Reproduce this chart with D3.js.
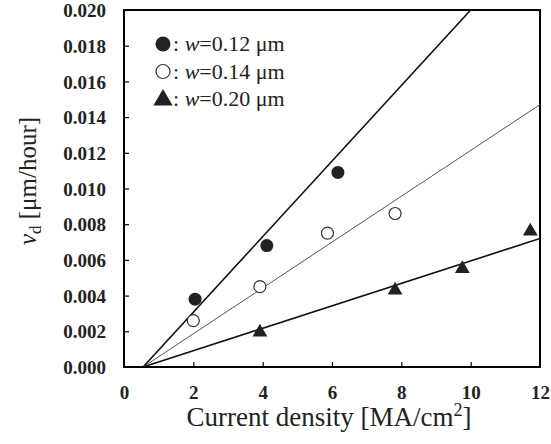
<!DOCTYPE html>
<html>
<head>
<meta charset="utf-8">
<script src="https://cdn.jsdelivr.net/npm/d3@7"></script>
<style>
  body { margin: 0; background: #fff; }
  svg { font-family: "Liberation Serif", "DejaVu Serif", serif; }
</style>
</head>
<body>
<div id="chart"></div>
<script>
// values
var xTicks = [0, 2, 4, 6, 8, 10, 12];
var yTicks = [0, 0.002, 0.004, 0.006, 0.008, 0.010, 0.012, 0.014, 0.016, 0.018, 0.020];

var w012 = [[2.05, 0.0038], [4.12, 0.0068], [6.17, 0.0109]];
var w014 = [[2.0, 0.0026], [3.92, 0.0045], [5.87, 0.0075], [7.82, 0.0086]];
var w020 = [[3.92, 0.00195], [7.82, 0.0043], [9.76, 0.0055], [11.72, 0.0076]];

var fit012 = [[0.55, 0], [10.0, 0.020]];
var fit014 = [[0.55, 0], [12, 0.0147]];
var fit020 = [[0.55, 0], [12, 0.0072]];

var legendLabels = ["0.12", "0.14", "0.20"];

const WIDTH = 551;
const HEIGHT = 444;
var margin = { left: 124, right: 11, top: 10, bottom: 77 };

var svg = d3.select("#chart").append("svg")
  .attr("width", WIDTH)
  .attr("height", HEIGHT);

var x = d3.scaleLinear().domain([0, 12]).range([margin.left, WIDTH - margin.right]);
var y = d3.scaleLinear().domain([0, 0.020]).range([HEIGHT - margin.bottom, margin.top]);

svg.append("clipPath").attr("id", "clip")
  .append("rect")
  .attr("x", x(0)).attr("y", y(0.020))
  .attr("width", x(12) - x(0)).attr("height", y(0) - y(0.020));

// axes with inward ticks
var xAxis = svg.append("g")
  .attr("transform", "translate(0," + y(0) + ")")
  .call(d3.axisBottom(x).tickValues(xTicks).tickSizeInner(-5).tickSizeOuter(0).tickPadding(19));
var yAxis = svg.append("g")
  .attr("transform", "translate(" + x(0) + ",0)")
  .call(d3.axisLeft(y).tickValues(yTicks).tickSizeInner(-5).tickSizeOuter(0).tickPadding(18)
    .tickFormat(d3.format(".3f")));

[xAxis, yAxis].forEach(function(g) {
  g.attr("font-family", null).attr("font-size", null);
  g.select(".domain").remove();
  g.selectAll("line").attr("stroke", "#000").attr("stroke-width", 1.2);
  g.selectAll("text")
    .attr("fill", "#222")
    .style("font-size", "19px")
    .style("font-weight", "bold")
    .style("font-family", "'Liberation Serif', serif");
});
// hide the ticks at the frame edges
xAxis.selectAll(".tick").filter(function(d) { return d === 0 || d === 12; }).select("line").remove();
yAxis.selectAll(".tick").filter(function(d) { return d === 0 || d === 0.020; }).select("line").remove();
yAxis.selectAll(".tick text").attr("dy", "0.35em");

// frame
svg.append("rect")
  .attr("x", x(0)).attr("y", y(0.020))
  .attr("width", x(12) - x(0)).attr("height", y(0) - y(0.020))
  .attr("fill", "none").attr("stroke", "#000").attr("stroke-width", 2);

// fit lines
var line = d3.line().x(function(d) { return x(d[0]); }).y(function(d) { return y(d[1]); });
var plot = svg.append("g").attr("clip-path", "url(#clip)");
plot.append("path").datum(fit012).attr("d", line)
  .attr("fill", "none").attr("stroke", "#111").attr("stroke-width", 1.6);
plot.append("path").datum(fit014).attr("d", line)
  .attr("fill", "none").attr("stroke", "#555").attr("stroke-width", 1);
plot.append("path").datum(fit020).attr("d", line)
  .attr("fill", "none").attr("stroke", "#111").attr("stroke-width", 1.6);

// markers
var tri = d3.symbol().type(d3.symbolTriangle).size(95);
svg.selectAll(".filled").data(w012).enter().append("circle")
  .attr("cx", function(d) { return x(d[0]); })
  .attr("cy", function(d) { return y(d[1]); })
  .attr("r", 6.5).attr("fill", "#222");
svg.selectAll(".open").data(w014).enter().append("circle")
  .attr("cx", function(d) { return x(d[0]); })
  .attr("cy", function(d) { return y(d[1]); })
  .attr("r", 6).attr("fill", "#fff").attr("stroke", "#333").attr("stroke-width", 1.2);
svg.selectAll(".tri").data(w020).enter().append("path")
  .attr("d", tri)
  .attr("transform", function(d) { return "translate(" + x(d[0]) + "," + y(d[1]) + ")"; })
  .attr("fill", "#222");

// legend
var legend = svg.append("g").attr("transform", "translate(163,44)");
legendLabels.forEach(function(lab, i) {
  var row = legend.append("g").attr("transform", "translate(0," + (i * 27.5) + ")");
  if (i === 0) row.append("circle").attr("r", 7.5).attr("fill", "#222");
  if (i === 1) row.append("circle").attr("r", 7).attr("fill", "#fff").attr("stroke", "#333").attr("stroke-width", 1.2);
  if (i === 2) row.append("path").attr("d", d3.symbol().type(d3.symbolTriangle).size(160)).attr("transform", "translate(0,1)").attr("fill", "#222");
  var t = row.append("text").attr("x", 10).attr("y", 7)
    .style("font-size", "22px").attr("fill", "#222");
  t.append("tspan").text(": ");
  t.append("tspan").style("font-style", "italic").text("w");
  t.append("tspan").text("=" + lab + " \u03bcm");
});

// axis titles
var xt = svg.append("text")
  .attr("x", 329).attr("y", 426)
  .attr("text-anchor", "middle")
  .style("font-size", "27px").attr("fill", "#222");
xt.append("tspan").text("Current density [MA/cm");
xt.append("tspan").attr("dy", -10).style("font-size", "18px").text("2");
xt.append("tspan").attr("dy", 10).text("]");

var yt = svg.append("text")
  .attr("transform", "translate(36,181) rotate(-90)")
  .attr("text-anchor", "middle")
  .style("font-size", "25px").attr("fill", "#222");
yt.append("tspan").style("font-style", "italic").text("v");
yt.append("tspan").attr("dy", 5).style("font-size", "17px").text("d");
yt.append("tspan").attr("dy", -5).text(" [\u03bcm/hour]");
</script>
</body>
</html>
